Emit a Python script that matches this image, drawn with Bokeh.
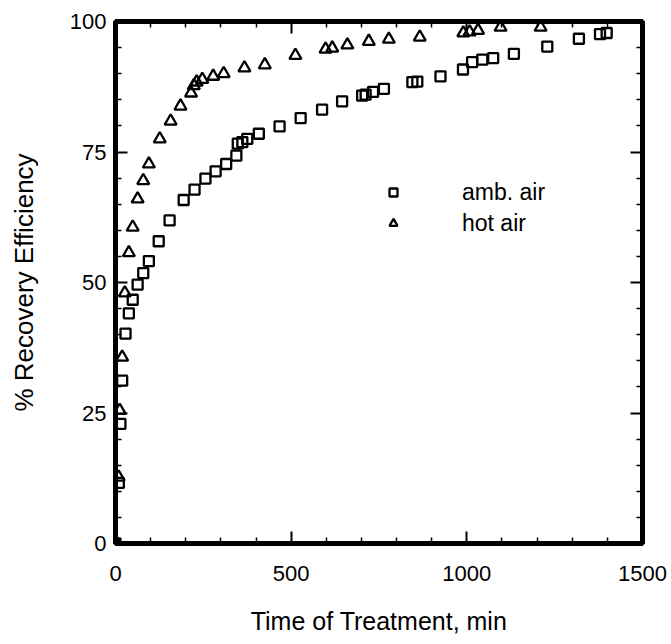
from bokeh.plotting import figure
from bokeh.models import LinearAxis, FixedTicker, Range1d, Legend, LegendItem
from bokeh.embed import file_html
from bokeh.resources import INLINE

# ambient air (squares)
amb_time = [0, 9.5, 14, 19, 28.5, 38, 49, 63, 79, 95, 123, 154, 194, 225, 256, 285,
            315, 344, 348, 361, 375, 408, 467, 527, 588, 645, 702, 712, 733, 764,
            845, 859, 925, 989, 1015, 1044, 1075, 1134, 1229, 1319, 1379, 1398]
amb_eff = [0, 11.6, 22.9, 31.2, 40.2, 44.1, 46.7, 49.6, 51.8, 54.1, 57.9, 61.9, 65.8,
           67.8, 69.9, 71.3, 72.7, 74.3, 76.6, 76.9, 77.5, 78.5, 79.9, 81.5, 83.1,
           84.7, 85.8, 86.0, 86.5, 87.1, 88.4, 88.5, 89.5, 90.8, 92.2, 92.7, 93.0,
           93.8, 95.2, 96.7, 97.6, 97.8]

# hot air (triangles)
hot_time = [3, 9, 12, 19, 26.5, 38, 49, 63, 79, 95, 126, 157, 185, 215, 223, 231, 247,
            278, 308, 367, 425, 512, 598, 617, 660, 721, 778, 866, 990, 1008, 1032,
            1096, 1210]
hot_eff = [0, 12.7, 25.5, 35.7, 48.0, 55.7, 60.6, 66.0, 69.5, 72.7, 77.5, 80.9, 83.8,
           86.3, 87.7, 88.4, 88.9, 89.5, 90.0, 91.1, 91.7, 93.5, 94.7, 94.9, 95.5,
           96.2, 96.6, 97.0, 97.8, 98.0, 98.3, 98.9, 98.9]

x_ticks = [0, 500, 1000, 1500]
x_minor = [100, 200, 300, 400, 600, 700, 800, 900, 1100, 1200, 1300, 1400]
y_ticks = [0, 25, 50, 75, 100]
y_minor = [5, 10, 15, 20, 30, 35, 40, 45, 55, 60, 65, 70, 80, 85, 90, 95]

FONT = "Liberation Sans"

p = figure(width=671, height=644, x_range=Range1d(0, 1500), y_range=Range1d(0, 100),
           output_backend="svg", toolbar_location=None,
           min_border_left=115, min_border_right=29, min_border_top=21,
           min_border_bottom=101, x_axis_label="Time of Treatment, min",
           y_axis_label="% Recovery Efficiency")
p.grid.visible = False
p.background_fill_color = "white"
p.border_fill_color = "white"
p.outline_line_color = "black"
p.outline_line_width = 5


def style_axis(ax, ticks, minor, show_labels):
    ax.ticker = FixedTicker(ticks=ticks, minor_ticks=minor)
    ax.axis_line_width = 5
    ax.axis_line_color = "black"
    ax.major_tick_in = 12
    ax.major_tick_out = 0
    ax.minor_tick_in = 6
    ax.minor_tick_out = 0
    ax.major_tick_line_width = 2
    ax.minor_tick_line_width = 1.5
    ax.major_tick_line_color = "black"
    ax.minor_tick_line_color = "black"
    ax.major_label_text_font = FONT
    ax.major_label_text_font_size = "22px"
    ax.major_label_text_color = "black"
    ax.axis_label_text_font = FONT
    ax.axis_label_text_font_style = "normal"
    ax.axis_label_text_color = "black"
    if not show_labels:
        ax.major_label_text_color = None
        ax.major_label_standoff = 0
        ax.axis_label = None


xa = p.xaxis[0]
ya = p.yaxis[0]
style_axis(xa, x_ticks, x_minor, True)
style_axis(ya, y_ticks, y_minor, True)
xa.major_label_standoff = 22
xa.axis_label_text_font_size = "25px"
xa.axis_label_standoff = 23
ya.major_label_standoff = 9
ya.axis_label_text_font_size = "26px"
ya.axis_label_standoff = 28

top = LinearAxis()
style_axis(top, x_ticks, x_minor, False)
p.add_layout(top, "above")
right = LinearAxis()
style_axis(right, y_ticks, y_minor, False)
p.add_layout(right, "right")

r_amb = p.scatter(amb_time, amb_eff, marker="square", size=10, fill_color=None,
                  line_color="black", line_width=2.3)
r_hot = p.scatter(hot_time, hot_eff, marker="triangle", size=12, fill_color=None,
                  line_color="black", line_width=2.3)

legend = Legend(items=[LegendItem(label="amb. air", renderers=[r_amb]),
                       LegendItem(label="hot air", renderers=[r_hot])],
                location=(268, 306), border_line_color=None,
                background_fill_alpha=0, padding=0, margin=0, spacing=3,
                glyph_width=20, glyph_height=28, label_height=28,
                label_standoff=59, label_text_font=FONT,
                label_text_font_size="23px", label_text_color="black")
p.add_layout(legend)

open("out.html", "w").write(file_html(p, INLINE))
